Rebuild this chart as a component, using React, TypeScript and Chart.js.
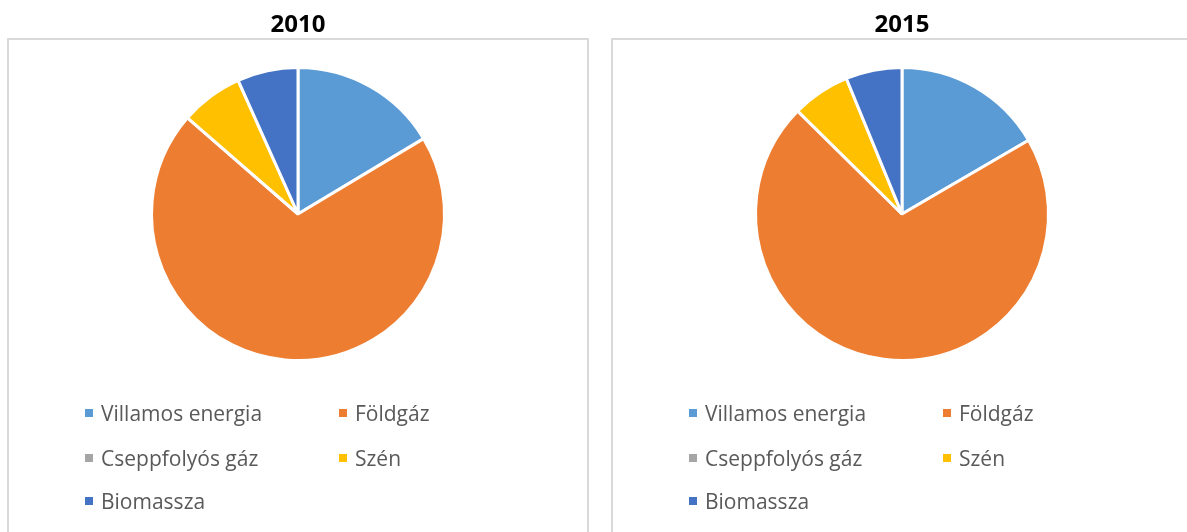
import React, { useEffect, useRef } from "react";
import { Chart, registerables } from "chart.js";

Chart.register(...registerables);

const categories = ["Villamos energia", "Földgáz", "Cseppfolyós gáz", "Szén", "Biomassza"];
const years = ["2010", "2015"];
const values2010 = [16.4, 70.0, 0, 6.9, 6.7];
const values2015 = [16.6, 70.8, 0, 6.4, 6.2];
const colors = ["#5B9BD5", "#ED7D31", "#A5A5A5", "#FFC000", "#4472C4"];

const FONT = "'Open Sans', 'Noto Sans', sans-serif";

function PiePanel({ title, values, left, width }: { title: string; values: number[]; left: number; width: number }) {
  const ref = useRef<HTMLCanvasElement | null>(null);
  useEffect(() => {
    if (!ref.current) return;
    const titleSize = 24;
    const lineH = titleSize * 1.2;
    const padTop = 25 - lineH / 2;
    const chart = new Chart(ref.current, {
      type: "pie",
      data: {
        labels: categories,
        datasets: [
          {
            data: values,
            backgroundColor: colors,
            borderColor: "#FFFFFF",
            borderWidth: 3,
          },
        ],
      },
      options: {
        responsive: false,
        animation: false,
        events: [],
        layout: { padding: { left: 142, right: width - 142 - 296, top: 0, bottom: 532 - 362 } },
        plugins: {
          legend: { display: false },
          tooltip: { enabled: false },
          title: {
            display: true,
            text: title,
            color: "#000000",
            font: { family: FONT, size: titleSize, weight: "bold" },
            padding: { top: padTop, bottom: 66 - padTop - lineH },
          },
        },
      },
    });
    return () => chart.destroy();
  }, []);
  return (
    <div style={{ position: "absolute", left, top: 0, width, height: 532 }}>
      <canvas ref={ref} width={width} height={532} style={{ position: "absolute", left: 0, top: 0 }} />
      {categories.map((c, i) => {
        const col = i % 2;
        const row = Math.floor(i / 2);
        const rowCenters = [413, 458, 501];
        const x = col === 0 ? 85 - 8 : 339 - 8;
        return (
          <div
            key={c}
            style={{
              position: "absolute",
              left: x,
              top: rowCenters[row] - 15,
              height: 30,
              display: "flex",
              alignItems: "center",
              fontFamily: FONT,
              fontSize: 21,
              color: "#595959",
              whiteSpace: "nowrap",
            }}
          >
            <span style={{ display: "inline-block", width: 8, height: 8, background: colors[i], marginRight: 8 }} />
            <span>{c}</span>
          </div>
        );
      })}
    </div>
  );
}

export default function App() {
  return (
    <div style={{ position: "absolute", left: 0, top: 0, width: 1187, height: 532, overflow: "hidden", background: "#FFFFFF" }}>
      <div style={{ position: "absolute", left: 7, top: 38, width: 578, height: 600, border: "2px solid #D9D9D9" }} />
      <div style={{ position: "absolute", left: 611, top: 38, width: 600, height: 600, border: "2px solid #D9D9D9" }} />
      <PiePanel title={years[0]} values={values2010} left={8} width={582} />
      <PiePanel title={years[1]} values={values2015} left={612} width={575} />
    </div>
  );
}
